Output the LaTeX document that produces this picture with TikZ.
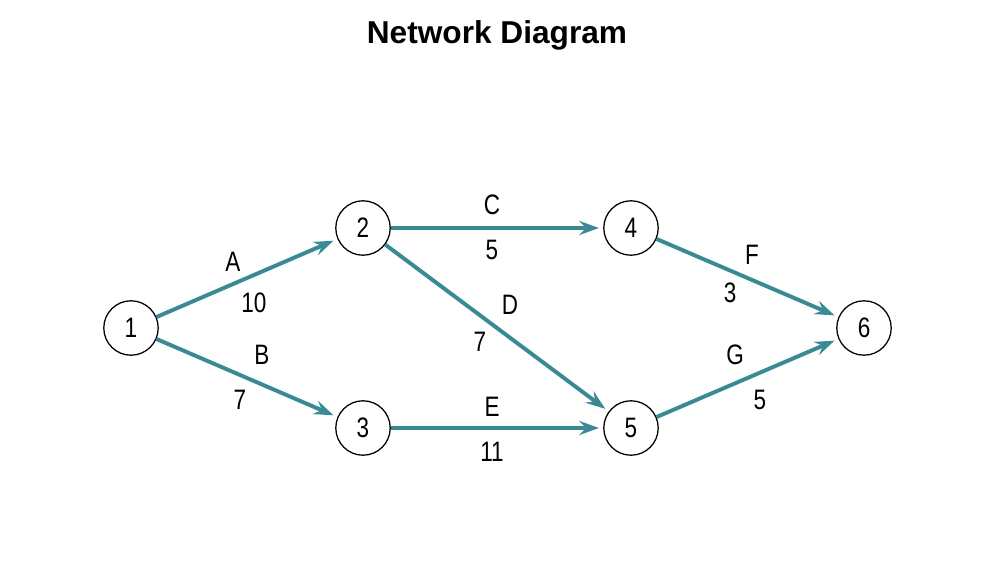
\documentclass[tikz,border=0pt]{standalone}
\usepackage{fontspec}
\setmainfont{Liberation Sans}
\newfontfamily\labelfont[FakeStretch=0.8]{Liberation Sans}
\usetikzlibrary{shapes,arrows.meta}
\definecolor{edgeteal}{RGB}{58,138,148}

\begin{document}
\begin{tikzpicture}[x=0.025cm,y=-0.025cm,
  every node/.style={font=\labelfont\fontsize{20}{23}\selectfont},
  act/.style={draw=edgeteal,line width=2.8pt,-{Stealth[length=14pt,width=10pt,inset=5pt]},shorten >=3pt}]
\useasboundingbox (0,0) rectangle (1008,572);
\node[font=\fontsize{22.5}{26}\selectfont\bfseries] (title) at (497,35) {Network Diagram};
\node[circle,draw,line width=0.9pt,minimum size=1.36cm,inner sep=0pt] (n1) at (131,328) {1};
\node[circle,draw,line width=0.9pt,minimum size=1.36cm,inner sep=0pt] (n2) at (363,228) {2};
\node[circle,draw,line width=0.9pt,minimum size=1.36cm,inner sep=0pt] (n3) at (363,428) {3};
\node[circle,draw,line width=0.9pt,minimum size=1.36cm,inner sep=0pt] (n4) at (631,228) {4};
\node[circle,draw,line width=0.9pt,minimum size=1.36cm,inner sep=0pt] (n5) at (631,428) {5};
\node[circle,draw,line width=0.9pt,minimum size=1.36cm,inner sep=0pt] (n6) at (864,328) {6};
\path[act]
  (n1) edge (n2)
  (n1) edge (n3)
  (n2) edge (n4)
  (n2) edge (n5)
  (n3) edge (n5)
  (n4) edge (n6)
  (n5) edge (n6)
;
% activity names and durations
\node (lA) at (233,262) {A};
\node (dA) at (254,303) {10};
\node (lB) at (262,355) {B};
\node (dB) at (240,400) {7};
\node (lC) at (492,205) {C};
\node (dC) at (492,250) {5};
\node (lD) at (510,305) {D};
\node (dD) at (480,342) {7};
\node (lE) at (492,407) {E};
\node (dE) at (492,452) {11};
\node (lF) at (752,255) {F};
\node (dF) at (730,293) {3};
\node (lG) at (735,355) {G};
\node (dG) at (760,400) {5};
\end{tikzpicture}
\end{document}
